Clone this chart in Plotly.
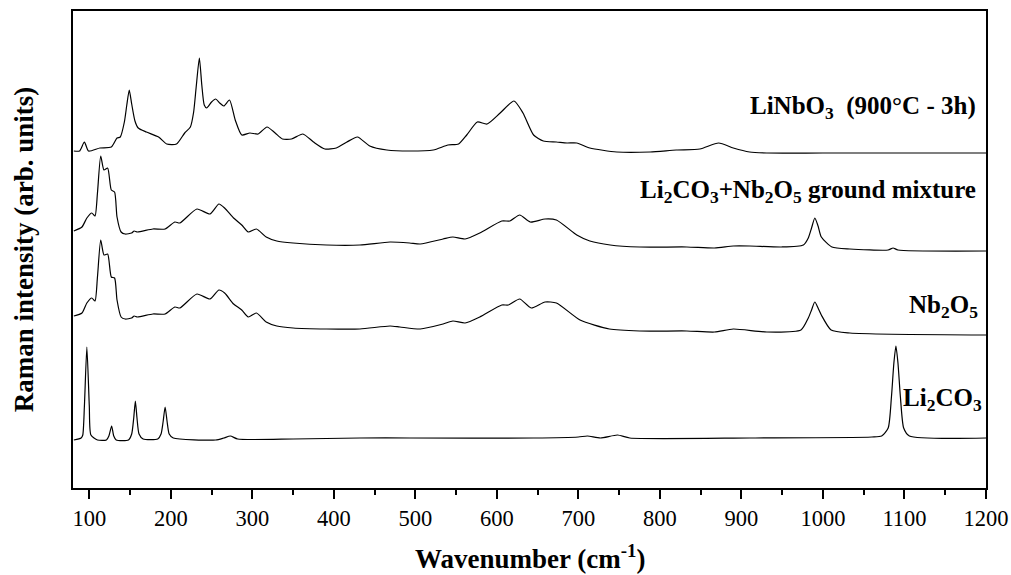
import plotly.graph_objects as go

# ---- data (wavenumber in cm-1, intensity in arb. units incl. vertical offset) ----
linbo3_x = [81, 88, 94, 99, 113, 127, 134, 138, 143, 146, 149, 152, 156, 160, 170, 185, 195, 207, 217, 224,
            228, 231, 235, 238, 241, 244, 250, 255, 260, 265, 272, 279, 287, 297, 307, 318, 328, 337, 348, 362,
            375, 389, 403, 416, 429, 444, 465, 493, 522, 540, 553, 563, 576, 588, 604, 621, 632, 645, 657, 673,
            686, 698, 714, 747, 788, 820, 849, 872, 890, 910, 931, 1000, 1200]
linbo3_y = [337, 337, 346, 337, 340, 341, 350, 351, 366, 383, 398, 384, 367, 360, 356, 351, 344, 344, 355, 361,
            376, 400, 430, 403, 383, 380, 386, 389, 385, 382, 388, 368, 353, 355, 354, 361, 355, 349, 349, 354,
            346, 339, 340, 346, 351, 342, 338, 337, 338, 343, 344, 353, 366, 364, 375, 387, 375, 353, 347, 346,
            345, 345, 340, 336, 336, 338, 339, 345, 340, 336, 335, 335, 335]

mix_x = [81, 91, 97, 103, 107, 110, 114, 118, 122.5, 127, 131, 134, 139, 144, 152, 155, 159, 178, 193, 205,
         211, 232, 248, 259, 266, 277, 287, 295, 305, 317, 330, 350, 391, 432, 469, 493, 506, 534, 546, 561,
         579, 606, 616, 628, 641, 659, 673, 698, 714, 739, 775, 833, 867, 890, 910, 949, 976, 982, 986, 990,
         994, 998, 1011, 1033, 1080, 1086, 1092, 1200]
mix_y = [257, 261, 270, 275, 272, 295, 332, 318, 320, 298, 296, 271, 256, 254, 255, 257, 256, 259, 259, 266,
         265, 279, 274, 284, 280, 270, 263, 256, 259, 251, 247, 245, 243, 243, 246, 245, 244, 249, 251, 249,
         255, 267, 267, 273, 266, 269, 268, 253, 247, 243, 241, 241, 240, 242, 242, 241, 243, 250, 260, 270,
         262, 251, 241, 239, 238, 240, 238, 237]

nb2o5_x = [81, 91, 97, 103, 107, 110, 114, 118, 122.5, 127, 131, 134, 139, 144, 152, 155, 159, 178, 193, 205,
           211, 232, 248, 259, 266, 277, 287, 295, 305, 317, 330, 350, 391, 432, 469, 481, 506, 534, 546, 561,
           579, 606, 614, 628, 642, 659, 673, 702, 738, 775, 833, 867, 890, 931, 973, 982, 986, 990, 994, 998,
           1010, 1033, 1200]
nb2o5_y = [172, 175, 185, 190, 187, 211, 248, 233, 234, 211, 210, 188, 171, 169, 170, 172, 171, 174, 174, 181,
           180, 194, 189, 198, 195, 184, 178, 171, 175, 166, 162, 160, 159, 159, 162, 161, 159, 164, 167, 165,
           171, 183, 183, 189, 180, 186, 185, 168, 159, 157, 157, 156, 159, 156, 158, 170, 178, 186, 180, 173,
           158, 155, 153]

li2co3_x = [81, 90, 92, 94, 97, 100, 102, 110, 121, 124, 127.4, 130, 133, 148, 152, 154.5, 156.5, 158.5, 161,
            166, 184, 188, 190.5, 193, 195.5, 198, 203, 255, 265, 273, 282, 350, 432, 493, 645, 700, 711, 727,
            748, 763, 910, 1060, 1072, 1080, 1084, 1087, 1089.5, 1092, 1095, 1099, 1106, 1200]
li2co3_y = [48, 50, 53, 82, 141, 82, 53, 48, 48, 52, 62, 52, 48, 48, 54, 70, 87, 70, 54,
            49, 49, 54, 66, 81, 66, 54, 50, 48, 50, 52, 49, 49, 50, 50, 50, 51, 52, 50,
            53, 50, 50, 51, 52, 60, 91, 125, 142, 125, 91, 60, 52, 50]

series = [
    (linbo3_x, linbo3_y, "LiNbO3"),
    (mix_x, mix_y, "Li2CO3+Nb2O5"),
    (nb2o5_x, nb2o5_y, "Nb2O5"),
    (li2co3_x, li2co3_y, "Li2CO3"),
]

label_texts = ["LiNbO<sub>3</sub>  (900°C - 3h)",
               "Li<sub>2</sub>CO<sub>3</sub>+Nb<sub>2</sub>O<sub>5</sub> ground mixture",
               "Nb<sub>2</sub>O<sub>5</sub>",
               "Li<sub>2</sub>CO<sub>3</sub>"]
label_y = [381, 297, 181.5, 88.5]
label_xr = [0.991, 0.991, 0.993, 0.998]

x_ticks = [100, 200, 300, 400, 500, 600, 700, 800, 900, 1000, 1100, 1200]

FONT = "Liberation Serif, Times New Roman, serif"

fig = go.Figure()
for xs, ys, name in series:
    fig.add_trace(go.Scatter(x=xs, y=ys, mode="lines", name=name,
                             line=dict(color="black", width=1.2, shape="spline", smoothing=0.6),
                             showlegend=False, hoverinfo="x+y"))

for t, yv, xr in zip(label_texts, label_y, label_xr):
    fig.add_annotation(x=xr, xref="paper", y=yv, yref="y", text=t, showarrow=False,
                       xanchor="right", yanchor="middle",
                       font=dict(family=FONT, size=25, color="black", weight="bold"))

# axis titles
fig.add_annotation(x=0.5, xref="paper", y=-0.145, yref="paper", text="Wavenumber (cm<sup>-1</sup>)",
                   showarrow=False, xanchor="center", yanchor="middle",
                   font=dict(family=FONT, size=27, color="black", weight="bold"))
fig.add_annotation(x=-0.054, xref="paper", y=0.5, yref="paper", text="Raman intensity (arb. units)",
                   showarrow=False, xanchor="center", yanchor="middle", textangle=-90,
                   font=dict(family=FONT, size=27, color="black", weight="bold"))

fig.update_layout(
    width=1011, height=575,
    margin=dict(l=73, r=25, t=11, b=87, autoexpand=False),
    paper_bgcolor="white", plot_bgcolor="white",
    font=dict(family=FONT, color="black"),
)
fig.update_xaxes(
    range=[80, 1200], tickvals=x_ticks, ticks="outside", ticklen=9, tickwidth=1.5, tickcolor="black",
    minor=dict(dtick=50, tick0=0, ticks="outside", ticklen=5, tickwidth=1.5, tickcolor="black"),
    showline=True, linecolor="black", linewidth=1.5, mirror=True, showgrid=False, zeroline=False,
    tickfont=dict(family=FONT, size=22.5, color="black"), automargin=False,
)
fig.update_yaxes(
    range=[0, 477], showticklabels=False, ticks="", showline=True, linecolor="black", linewidth=1.5,
    mirror=True, showgrid=False, zeroline=False, automargin=False,
)

fig.write_html("out.html", config={"displayModeBar": False},
               post_script="document.body.style.margin='0';document.body.style.overflow='hidden';")
